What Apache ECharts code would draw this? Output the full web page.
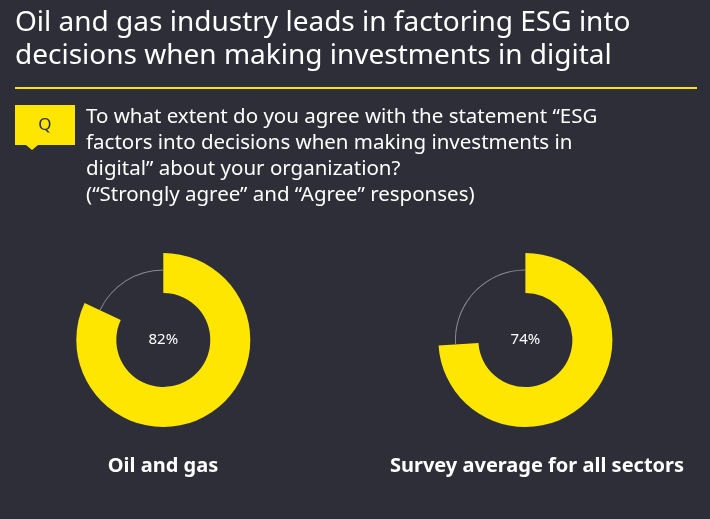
<!DOCTYPE html>
<html><head><meta charset="utf-8">
<script src="https://cdn.jsdelivr.net/npm/echarts@6/dist/echarts.min.js"></script>
<style>html,body{margin:0;padding:0;background:#2e2e38}#c{width:710px;height:519px}</style>
</head><body><div id="c"></div>
<script>
const categories = ['Oil and gas', 'Survey average for all sectors'];
const values = [82, 74];
const centersX = ['23%', '74%'];
const chart = echarts.init(document.getElementById('c'));
const F = '"Noto Sans", "Liberation Sans", sans-serif';
const series = [];
values.forEach((v, i) => {
  series.push({
    type: 'pie', radius: [47, 87], center: [centersX[i], 340], startAngle: 90, clockwise: true,
    silent: true, label: {show: true, position: 'center', formatter: v + '%', color: '#fff', fontSize: 15, fontFamily: F},
    labelLine: {show: false},
    data: [{value: v, itemStyle: {color: '#ffe600'}}, {value: 100 - v, itemStyle: {color: 'transparent'}, label: {show: false}}]
  });
  series.push({
    type: 'pie', radius: [69.5, 70.5], center: [centersX[i], 340], startAngle: 90, clockwise: true,
    silent: true, label: {show: false}, labelLine: {show: false},
    data: [{value: v, itemStyle: {color: 'transparent'}}, {value: 100 - v, itemStyle: {color: '#8a8a94'}}]
  });
});
chart.setOption({
  backgroundColor: '#2e2e38',
  animation: false,
  series: series,
  graphic: [
    {type: 'text', left: 15, top: 7, style: {text: 'Oil and gas industry leads in factoring ESG into\ndecisions when making investments in digital', fill: '#fff', font: '28px ' + F, lineHeight: 33}},
    {type: 'rect', shape: {x: 15, y: 87, width: 682, height: 2}, style: {fill: '#ffe600'}},
    {type: 'polygon', shape: {points: [[15,105],[75,105],[75,145],[38,145],[32,150],[26,145],[15,145]]}, style: {fill: '#ffe600'}},
    {type: 'text', x: 45, y: 125, style: {text: 'Q', fill: '#2e2e38', font: '17px ' + F, align: 'center', verticalAlign: 'middle'}},
    {type: 'text', left: 86, top: 104, style: {text: 'To what extent do you agree with the statement \u201cESG\nfactors into decisions when making investments in\ndigital\u201d about your organization?\n(\u201cStrongly agree\u201d and \u201cAgree\u201d responses)', fill: '#fff', font: '20.5px ' + F, lineHeight: 26}},
    {type: 'text', x: 163, y: 466, style: {text: categories[0], fill: '#fff', font: 'bold 20px ' + F, align: 'center', verticalAlign: 'middle'}},
    {type: 'text', x: 537, y: 466, style: {text: categories[1], fill: '#fff', font: 'bold 20px ' + F, align: 'center', verticalAlign: 'middle'}}
  ]
});
</script></body></html>
